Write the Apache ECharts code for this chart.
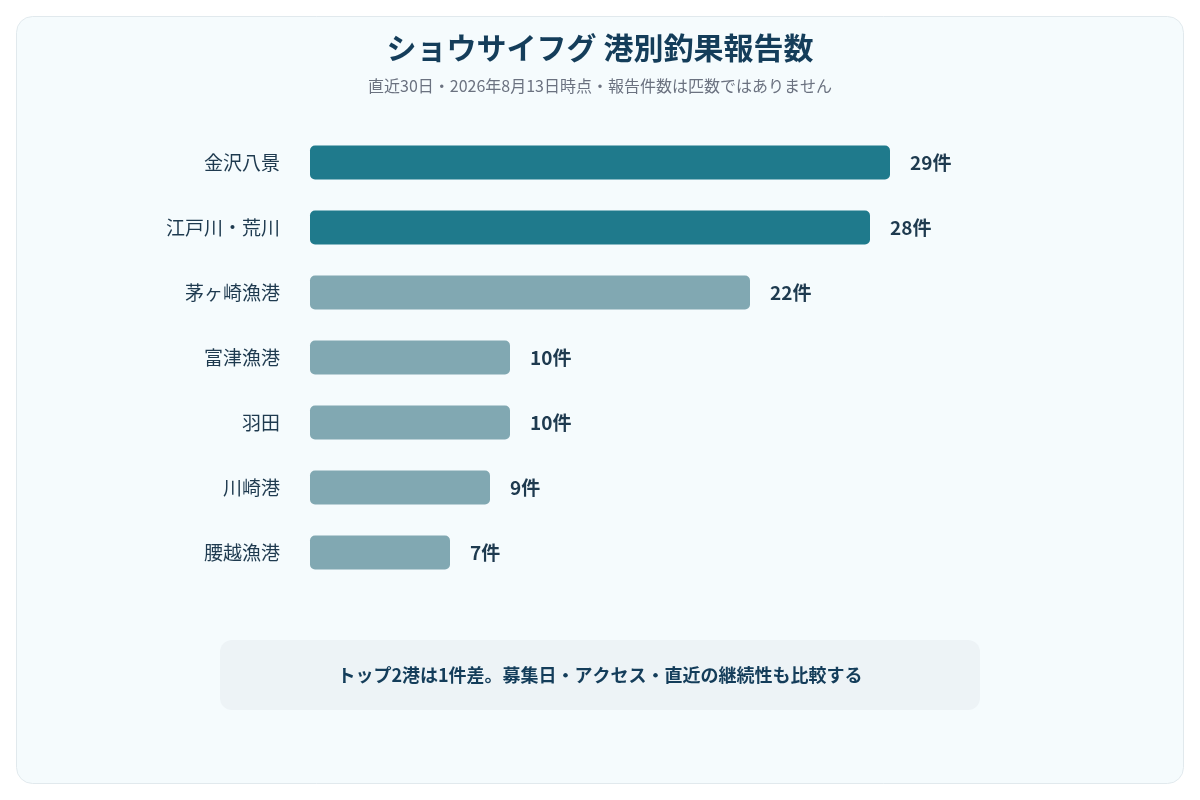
<!DOCTYPE html>
<html lang="ja">
<head>
<meta charset="utf-8">
<title>ショウサイフグ 港別釣果報告数</title>
<script src="https://cdn.jsdelivr.net/npm/echarts@6/dist/echarts.min.js"></script>
<style>
  html, body { margin: 0; padding: 0; background: #ffffff; }
  #chart { width: 1200px; height: 800px; }
</style>
</head>
<body>
<div id="chart"></div>
<script>
'use strict';
// ショウサイフグ 港別釣果報告数 — horizontal bar, top 2 highlighted

const PORTS = ['金沢八景', '江戸川・荒川', '茅ヶ崎漁港', '富津漁港', '羽田', '川崎港', '腰越漁港'];
const REPORTS = [29, 28, 22, 10, 10, 9, 7];
const HIGHLIGHT_COUNT = 2;

const TITLE = 'ショウサイフグ 港別釣果報告数';
const SUBTITLE = '直近30日・2026年8月13日時点・報告件数は匹数ではありません';
const NOTE = 'トップ2港は1件差。募集日・アクセス・直近の継続性も比較する';

const C = {
  top: '#1f7a8c', rest: '#81a8b2', ink: '#143d5a', label: '#1e3a4f',
  sub: '#6b7280', card: '#f5fbfd', cardLine: '#e1e9ed', note: '#edf3f6'
};
const FONT = "'Noto Sans CJK JP','Noto Sans',sans-serif";

const chart = echarts.init(document.getElementById('chart'));

chart.setOption({
  textStyle: { fontFamily: FONT },
  graphic: [
    { type: 'rect', z: -10, shape: { x: 16.5, y: 16.5, width: 1167, height: 767, r: 16 },
      style: { fill: C.card, stroke: C.cardLine, lineWidth: 1 } },
    { type: 'text', x: 600, y: 48,
      style: { text: TITLE, fill: C.ink, font: "bold 30px " + FONT, textAlign: 'center', textVerticalAlign: 'middle' } },
    { type: 'text', x: 600, y: 86,
      style: { text: SUBTITLE, fill: C.sub, font: "16px " + FONT, textAlign: 'center', textVerticalAlign: 'middle' } },
    { type: 'rect', z: -5, shape: { x: 220, y: 640, width: 760, height: 70, r: 12 },
      style: { fill: C.note } },
    { type: 'text', x: 600, y: 675,
      style: { text: NOTE, fill: C.ink, font: "bold 18px " + FONT, textAlign: 'center', textVerticalAlign: 'middle' } }
  ],
  grid: { left: 310, top: 130, width: 600, height: 455, containLabel: false },
  xAxis: { type: 'value', min: 0, max: 30, show: false },
  yAxis: {
    type: 'category', data: PORTS, inverse: true,
    axisLine: { show: false }, axisTick: { show: false },
    axisLabel: { color: C.label, fontSize: 19, margin: 30, fontFamily: FONT }
  },
  series: [{
    type: 'bar', barWidth: 34,
    data: REPORTS.map((v, i) => ({
      value: v,
      itemStyle: { color: i < HIGHLIGHT_COUNT ? C.top : C.rest, borderRadius: 5 }
    })),
    label: {
      show: true, position: 'right', distance: 20,
      formatter: p => p.value + '件',
      color: C.label, fontSize: 19, fontWeight: 'bold', fontFamily: FONT
    },
    silent: true
  }]
});
</script>
</body>
</html>
